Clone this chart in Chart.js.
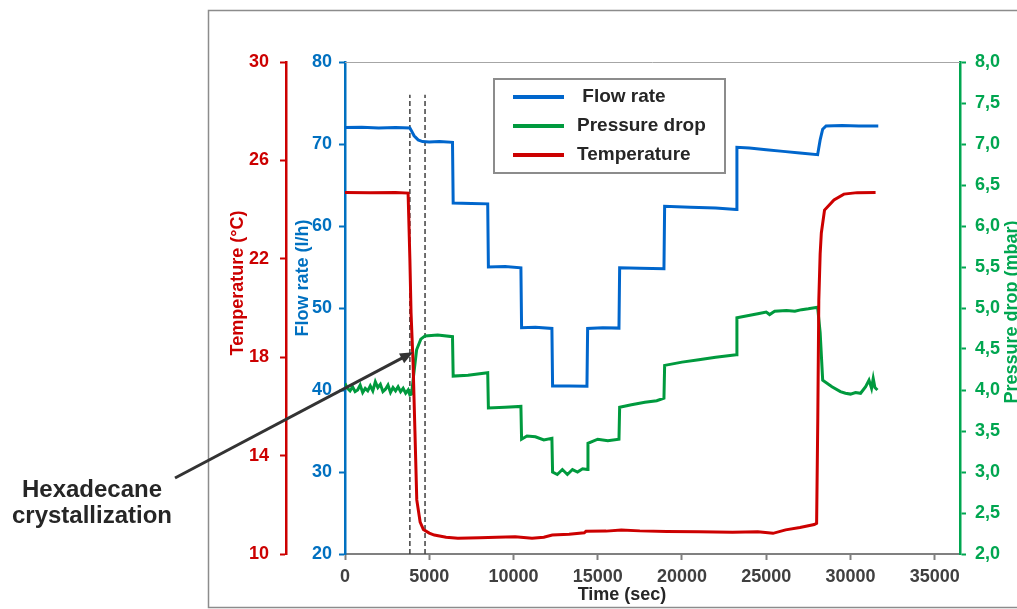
<!DOCTYPE html>
<html>
<head>
<meta charset="utf-8">
<script src="https://cdn.jsdelivr.net/npm/chart.js@4/dist/chart.umd.min.js"></script>
<style>
  html, body { margin: 0; padding: 0; background: #fff; }
  #wrap { width: 1017px; height: 609px; }
</style>
</head>
<body>
<div id="wrap"><canvas id="chart" width="1017" height="609"></canvas></div>
<script>
// flow rate (l/h) vs time (s)
const flowTime = [0, 1000, 2000, 3000, 3850, 3950, 4100, 4340, 4600, 5000, 5600, 6380, 6420, 7500, 8470, 8510, 9500, 10440, 10480, 11300, 12280, 12320, 13300, 14360, 14400, 15300, 16260, 16300, 17500, 18930, 18970, 20500, 22000, 23220, 23260, 24000, 25000, 26000, 27000, 28050, 28200, 28350, 28550, 29500, 30500, 31650];
const flowRate = [72.0, 72.05, 71.95, 72.0, 71.95, 71.6, 71.0, 70.5, 70.3, 70.25, 70.3, 70.2, 62.8, 62.75, 62.7, 55.0, 55.05, 54.9, 47.6, 47.65, 47.5, 40.5, 40.5, 40.45, 47.5, 47.6, 47.55, 54.9, 54.85, 54.8, 62.4, 62.3, 62.2, 62.0, 69.6, 69.5, 69.3, 69.1, 68.9, 68.7, 70.5, 71.8, 72.2, 72.25, 72.2, 72.2];

// pressure drop (mbar) vs time (s)
const pressureTime = [0, 150, 300, 450, 600, 750, 900, 1050, 1200, 1350, 1500, 1650, 1800, 1950, 2100, 2250, 2400, 2550, 2700, 2850, 3000, 3150, 3300, 3450, 3600, 3750, 3850, 3950, 4040, 4250, 4500, 4750, 5500, 6380, 6420, 7300, 8470, 8510, 9500, 10440, 10480, 10800, 11300, 11800, 12280, 12320, 12600, 12900, 13200, 13500, 13800, 14100, 14380, 14420, 15000, 15600, 16260, 16300, 17000, 17800, 18500, 18930, 18970, 20000, 21000, 22000, 23220, 23260, 24500, 25000, 25200, 25500, 26200, 26700, 27100, 27500, 28050, 28200, 28350, 28900, 29400, 29700, 30000, 30300, 30600, 30900, 31100, 31250, 31350, 31450, 31600];
const pressureDrop = [4.08, 4.02, 3.99, 4.04, 3.98, 4.00, 4.06, 3.97, 4.02, 3.99, 4.05, 3.99, 4.10, 4.03, 4.07, 3.98, 4.01, 4.06, 3.97, 4.03, 3.99, 4.04, 3.98, 4.02, 3.96, 4.00, 3.94, 3.95, 4.12, 4.49, 4.62, 4.66, 4.67, 4.65, 4.17, 4.18, 4.21, 3.78, 3.79, 3.80, 3.40, 3.44, 3.43, 3.39, 3.41, 3.00, 2.97, 3.03, 2.97, 3.03, 3.00, 3.04, 3.03, 3.35, 3.40, 3.38, 3.40, 3.79, 3.82, 3.85, 3.87, 3.90, 4.30, 4.34, 4.37, 4.40, 4.43, 4.88, 4.93, 4.95, 4.92, 4.96, 4.97, 4.96, 4.98, 4.99, 5.01, 4.70, 4.12, 4.04, 3.98, 3.96, 3.95, 3.97, 3.96, 4.04, 4.12, 4.02, 4.14, 4.03, 4.00];

// temperature (°C) vs time (s)
const tempTime = [0, 1500, 3000, 3745, 3850, 3920, 4040, 4150, 4260, 4460, 4650, 5000, 5300, 6000, 6700, 8000, 9000, 10100, 11100, 11800, 12300, 13300, 14200, 14300, 15500, 16400, 17500, 19100, 21000, 23000, 24500, 25400, 26150, 27000, 27850, 27990, 28060, 28120, 28200, 28270, 28460, 29020, 29610, 30400, 31490];
const temperature = [24.7, 24.68, 24.7, 24.67, 22.0, 19.8, 17.77, 15.0, 12.2, 11.3, 11.0, 10.85, 10.77, 10.68, 10.64, 10.66, 10.68, 10.70, 10.64, 10.68, 10.77, 10.80, 10.86, 10.92, 10.93, 10.98, 10.94, 10.91, 10.90, 10.88, 10.90, 10.84, 10.98, 11.08, 11.2, 11.25, 15.5, 20.3, 22.2, 23.05, 23.98, 24.39, 24.63, 24.69, 24.7];

// crystallization window (s) and the top of its dashed markers (l/h)
const markerTimes = [3850, 4750];
const markerTop = 76;
const arrowTip = { time: 4040, flow: 44.6 };

const xTickValues = [0, 5000, 10000, 15000, 20000, 25000, 30000, 35000];

const RED = '#CC0000', BLUE = '#0066CC', GREEN = '#009A3E';
const RED_AX = '#CC0000', BLUE_AX = '#0070C0', GREEN_AX = '#00A650';
const FONT = 'Liberation Sans, Arial, sans-serif';

const pts = (xs, ys) => xs.map((x, i) => ({ x: x, y: ys[i] }));

const datasets = [
  { label: ' Flow rate', data: pts(flowTime, flowRate), yAxisID: 'yF', borderColor: BLUE, borderWidth: 3, order: 2 },
  { label: 'Pressure drop', data: pts(pressureTime, pressureDrop), yAxisID: 'yP', borderColor: GREEN, borderWidth: 3, order: 1 },
  { label: 'Temperature', data: pts(tempTime, temperature), yAxisID: 'yT', borderColor: RED, borderWidth: 3, order: 0 }
];
markerTimes.forEach(t => {
  datasets.push({
    label: '', data: [{ x: t, y: 20 }, { x: t, y: markerTop }], yAxisID: 'yF',
    borderColor: '#404040', borderWidth: 1.5, borderDash: [5, 3], order: 3, marker: true
  });
});

const tickFont = { family: FONT, size: 18, weight: 'bold' };

function yAxis(pos, color, min, max, step, weight, width, pad, fmt) {
  return {
    type: 'linear', position: pos, min: min, max: max, weight: weight,
    grid: { display: true, drawOnChartArea: false, drawTicks: true, tickLength: 6, color: color, tickWidth: 2 },
    border: { display: true, color: color, width: 2.5 },
    ticks: { stepSize: step, color: color, font: tickFont, padding: pad, callback: fmt || (v => String(v)) },
    afterFit: s => { s.width = width; }
  };
}

const decor = {
  id: 'decor',
  afterDraw(chart) {
    const ctx = chart.ctx, a = chart.chartArea, sx = chart.scales.x, sf = chart.scales.yF;
    ctx.save();

    // frame and top edge of the plot
    ctx.strokeStyle = '#8c8c8c';
    ctx.lineWidth = 1.5;
    ctx.strokeRect(208.5, 10.5, 1017, 597);
    ctx.strokeStyle = '#a6a6a6';
    ctx.lineWidth = 1;
    ctx.beginPath();
    ctx.moveTo(a.left, a.top + 0.5);
    ctx.lineTo(a.right, a.top + 0.5);
    ctx.stroke();

    // axis titles
    ctx.font = 'bold 18px ' + FONT;
    ctx.textAlign = 'center';
    ctx.textBaseline = 'middle';
    const vTitle = (txt, x, y, color) => {
      ctx.save();
      ctx.translate(x, y);
      ctx.rotate(-Math.PI / 2);
      ctx.fillStyle = color;
      ctx.fillText(txt, 0, 0);
      ctx.restore();
    };
    vTitle('Temperature (°C)', 238, 283, RED_AX);
    vTitle('Flow rate (l/h)', 303, 278, BLUE_AX);
    vTitle('Pressure drop (mbar)', 1012, 312, GREEN_AX);
    ctx.fillStyle = '#262626';
    ctx.fillText('Time (sec)', 622, 595);

    // legend
    ctx.strokeStyle = '#8c8c8c';
    ctx.lineWidth = 2;
    ctx.strokeRect(494, 79, 231, 94);
    ctx.font = 'bold 19px ' + FONT;
    ctx.textAlign = 'left';
    chart.data.datasets.filter(d => !d.marker).forEach((d, i) => {
      const y = 97 + i * 29;
      ctx.strokeStyle = d.borderColor;
      ctx.lineWidth = 4;
      ctx.beginPath();
      ctx.moveTo(513, y);
      ctx.lineTo(564, y);
      ctx.stroke();
      ctx.fillStyle = '#262626';
      ctx.fillText(d.label, 577, y);
    });

    // annotation arrow and text
    const tx = sx.getPixelForValue(arrowTip.time), ty = sf.getPixelForValue(arrowTip.flow);
    const fx = 175, fy = 478;
    const ang = Math.atan2(ty - fy, tx - fx);
    const hl = 13, hw = 5.5;
    ctx.strokeStyle = '#333333';
    ctx.fillStyle = '#333333';
    ctx.lineWidth = 3;
    ctx.beginPath();
    ctx.moveTo(fx, fy);
    ctx.lineTo(tx - Math.cos(ang) * (hl - 2), ty - Math.sin(ang) * (hl - 2));
    ctx.stroke();
    ctx.beginPath();
    ctx.moveTo(tx, ty);
    ctx.lineTo(tx - Math.cos(ang) * hl - Math.sin(ang) * hw, ty - Math.sin(ang) * hl + Math.cos(ang) * hw);
    ctx.lineTo(tx - Math.cos(ang) * hl + Math.sin(ang) * hw, ty - Math.sin(ang) * hl - Math.cos(ang) * hw);
    ctx.closePath();
    ctx.fill();

    ctx.font = 'bold 24px ' + FONT;
    ctx.textAlign = 'center';
    ctx.textBaseline = 'alphabetic';
    ctx.fillStyle = '#262626';
    ctx.fillText('Hexadecane', 92, 497);
    ctx.fillText('crystallization', 92, 523);
    ctx.restore();
  }
};

new Chart(document.getElementById('chart'), {
  type: 'line',
  data: { datasets: datasets },
  options: {
    responsive: false,
    animation: false,
    devicePixelRatio: 1,
    elements: { point: { radius: 0 }, line: { tension: 0, fill: false } },
    layout: { padding: { top: 62, left: 0, right: 0, bottom: 0 } },
    plugins: { legend: { display: false }, tooltip: { enabled: false } },
    scales: {
      x: {
        type: 'linear', position: 'bottom', min: 0, max: 36500,
        grid: { display: true, drawOnChartArea: false, drawTicks: true, tickLength: 6, color: '#808080', tickWidth: 2 },
        border: { display: true, color: '#808080', width: 2 },
        ticks: { color: '#404040', font: tickFont, padding: 6, maxRotation: 0, autoSkip: false, callback: v => String(v) },
        afterBuildTicks: s => { s.ticks = xTickValues.map(v => ({ value: v })); },
        afterFit: s => { s.height = 55; }
      },
      yT: yAxis('left', RED_AX, 10, 30, 4, 2, 286, 11),
      yF: yAxis('left', BLUE_AX, 20, 80, 10, 1, 59, 7),
      yP: yAxis('right', GREEN_AX, 2, 8, 0.5, 1, 57, 9, v => v.toFixed(1).replace('.', ','))
    }
  },
  plugins: [decor]
});
</script>
</body>
</html>
